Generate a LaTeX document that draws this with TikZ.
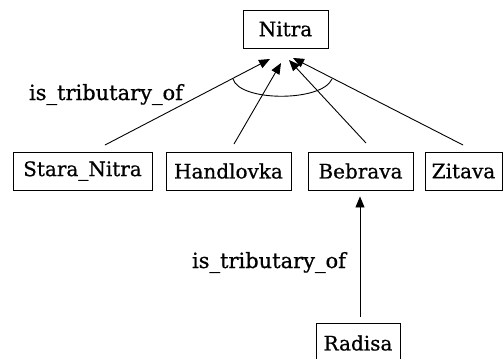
\documentclass[tikz,border=0pt]{standalone}
\usepackage{fontspec}
\setmainfont{DejaVu Serif}
\newfontfamily\lblfont{DejaVu Serif}[FakeBold=0.7]
\usetikzlibrary{arrows.meta}
\tikzset{
  box/.style={draw, line width=0.9pt, inner sep=0pt, minimum height=38pt, font=\lblfont\fontsize{20}{22}\selectfont},
  arr/.style={line width=0.9pt, -{Triangle[length=11pt,width=9pt]}},
  lbl/.style={font=\lblfont\fontsize{21}{23}\selectfont, anchor=base, inner sep=0pt}
}
\begin{document}
\begin{tikzpicture}[x=1pt,y=-1pt]
\useasboundingbox (0,0) rectangle (504,359);
\clip (0,0) rectangle (504,359);
\node[box, minimum width=85pt] (nitra) at (285.5,29) {Nitra};
\node[box, minimum width=139pt] (sn) at (82.5,171) {Stara\_Nitra};
\node[box, minimum width=125pt] (han) at (228.5,171) {Handlovka};
\node[box, minimum width=105pt] (beb) at (360.5,171) {Bebrava};
\node[box, minimum width=77pt] (zit) at (463.5,171) {Zitava};
\node[box, minimum width=84pt, minimum height=40pt] (rad) at (358,343) {Radisa};
\coordinate (s1) at (105,145); \coordinate (e1) at (270,59);
\coordinate (s2) at (234,144); \coordinate (e2) at (281,63);
\coordinate (s3) at (366,143); \coordinate (e3) at (289,60);
\coordinate (s4) at (463,145); \coordinate (e4) at (293,58);
\draw[arr] (s1) -- (e1);
\draw[arr] (s2) -- (e2);
\draw[arr] (s3) -- (e3);
\draw[arr] (s4) -- (e4);
\coordinate (c1) at (233,79); \coordinate (c2) at (332,79);
\draw[line width=0.9pt] (c1) .. controls (240,102) and (322,102) .. (c2);
\draw[arr, shorten <=6pt, shorten >=6pt] ([xshift=2pt]rad.north) -- ([xshift=-0.5pt]beb.south);
\node[lbl] (l1) at (106,100) {is\_tributary\_of};
\node[lbl] (l2) at (269,268) {is\_tributary\_of};
\end{tikzpicture}
\end{document}
